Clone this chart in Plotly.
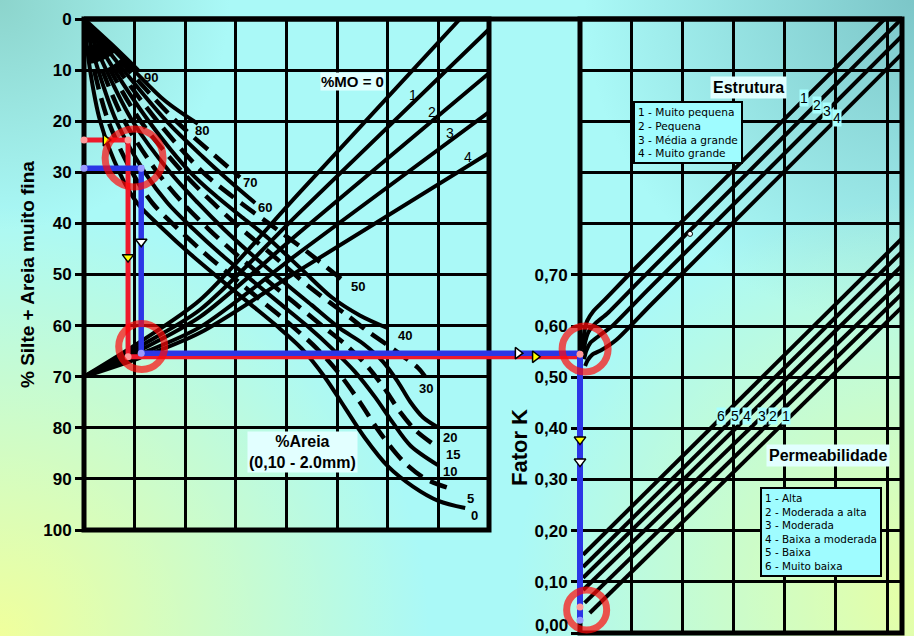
import base64
import plotly.graph_objects as go

W, H = 914, 636

# ---------------- values ----------------
silt_ticks = [0, 10, 20, 30, 40, 50, 60, 70, 80, 90, 100]
k_ticks = [0.0, 0.1, 0.2, 0.3, 0.4, 0.5, 0.6, 0.7]
k_tick_labels = ["0,00", "0,10", "0,20", "0,30", "0,40", "0,50", "0,60", "0,70"]
left_grid_x = [10, 20, 30, 40, 50, 60, 70]
right_grid_x = [0.1, 0.2, 0.3, 0.4, 0.5, 0.6]
right_grid_k_upper = [0.8, 0.9, 1.0, 1.1]

# % areia (0,10-2,0 mm) curves: x = panel units, y = % silte + areia muito fina
sand_levels = ["0", "5", "10", "15", "20", "30", "40", "50", "60", "70", "80", "90"]
sand_dashed = [False, True, False, True, False, True, False, True, False, True, False, False]
sand00_x = [0, 1.2, 3.2, 7.0, 10.5, 15.5, 21.0, 27.0, 32.5, 38.0, 43.0, 47.5, 51.5, 55.5, 60.0, 65.0, 70.0, 75.3]
sand00_y = [0, 10, 20, 30, 36, 41, 46, 51, 55.5, 60, 64.5, 70, 76, 82, 87.5, 91.5, 94.3, 95.7]
sand05_x = [0, 2.0, 4.8, 9.5, 13.5, 18.5, 24.0, 30.0, 35.5, 41.0, 46.0, 50.5, 54.5, 58.5, 63.0, 67.5, 72.7]
sand05_y = [0, 10, 20, 30, 36, 41, 46, 51, 55.5, 60, 64.5, 69.5, 75, 81, 86.5, 90, 92]
sand10_x = [0, 2.8, 6.4, 12.0, 16.5, 21.5, 27.0, 33.0, 38.5, 44.0, 49.0, 53.5, 57.5, 61.0, 64.5, 69.9]
sand10_y = [0, 10, 20, 30, 36, 41, 46, 51, 55.5, 60, 64.5, 69, 74, 79, 83.5, 87.3]
sand15_x = [0, 3.6, 8.0, 14.5, 19.5, 24.5, 30.0, 36.0, 41.5, 47.0, 52.0, 56.0, 59.5, 62.5, 65.5, 68.7]
sand15_y = [0, 10, 20, 30, 36, 41, 46, 51, 55.5, 60, 64, 68, 72.5, 77, 80.5, 83]
sand20_x = [0, 4.4, 9.6, 17.0, 22.5, 27.5, 33.0, 39.5, 45.0, 50.5, 55.1, 59.0, 62.0, 64.5, 67.0, 69.7]
sand20_y = [0, 10, 20, 30, 36, 41, 46, 51.5, 56, 60.5, 63.5, 67, 71, 75, 78, 79.8]
sand30_x = [0, 5.2, 11.2, 19.5, 25.5, 31.0, 37.0, 44.6, 48.6, 52.0, 55.9, 59.5, 63.0, 66.0, 67.4]
sand30_y = [0, 10, 20, 30, 36, 41, 46, 52.5, 55.5, 58, 61, 63.5, 66, 68.3, 70]
sand40_x = [0, 6.0, 12.8, 21.0, 26.5, 31.5, 36.5, 43.0, 49.0, 54.5, 60.0]
sand40_y = [0, 10, 20, 30, 35, 39, 43, 49, 54.5, 58, 60.5]
sand50_x = [0, 6.9, 14.5, 23.5, 31.0, 36.5, 44.0, 51.6]
sand50_y = [0, 10, 20, 30, 36, 40, 45.5, 51.5]
sand60_x = [0, 7.8, 16.3, 23.5, 28.5, 33.8]
sand60_y = [0, 10, 20, 27, 31.5, 36]
sand70_x = [0, 8.8, 18.2, 25.0, 30.8]
sand70_y = [0, 10, 20, 26, 31]
sand80_x = [0, 9.8, 16.0, 22.5]
sand80_y = [0, 10, 16, 20.5]
sand90_x = [0, 5.5, 10.7]
sand90_y = [0, 5, 10]
sand_label_x = [77.2, 76.4, 72.3, 72.9, 72.3, 67.6, 63.4, 54.1, 35.8, 32.8, 23.3, 13.2]
sand_label_y = [97.2, 93.9, 88.5, 85.3, 81.8, 72.4, 62.0, 52.4, 36.8, 31.9, 21.9, 11.4]

# % MO lines
mo_levels = ["0", "1", "2", "3", "4"]
mo0_x = [0, 11.06, 22.91, 42.67, 74.27]
mo0_y = [70, 63.2, 55.0, 33.9, 0.0]
mo1_x = [0, 11.06, 22.91, 42.67, 80.0]
mo1_y = [70, 64.0, 56.9, 37.8, 2.0]
mo2_x = [0, 11.06, 22.91, 42.67, 80.0]
mo2_y = [70, 64.8, 58.3, 41.7, 10.6]
mo3_x = [0, 11.06, 22.91, 42.67, 80.0]
mo3_y = [70, 65.6, 60.3, 45.6, 18.2]
mo4_x = [0, 11.06, 22.91, 42.67, 80.0]
mo4_y = [70, 66.3, 61.4, 49.1, 26.2]
mo_label_x = [65.0, 68.7, 72.3, 75.9]
mo_label_y = [14.9, 18.2, 22.3, 27.0]

# Estrutura lines (right panel: x, K)
struct_levels = ["1", "2", "3", "4"]
struct1_x = [0.006, 0.008, 0.014, 0.026, 0.046, 0.104, 0.595]
struct1_k = [0.555, 0.585, 0.610, 0.629, 0.649, 0.709, 1.200]
struct2_x = [0.007, 0.010, 0.017, 0.031, 0.054, 0.120, 0.628]
struct2_k = [0.545, 0.568, 0.589, 0.606, 0.625, 0.692, 1.200]
struct3_x = [0.008, 0.012, 0.020, 0.036, 0.062, 0.130, 0.629]
struct3_k = [0.535, 0.551, 0.567, 0.580, 0.599, 0.668, 1.167]
struct4_x = [0.010, 0.015, 0.024, 0.042, 0.070, 0.140, 0.629]
struct4_k = [0.522, 0.533, 0.544, 0.553, 0.572, 0.643, 1.132]
struct_label_x = [0.4375, 0.4629, 0.4824, 0.5020]
struct_label_k = [1.045, 1.032, 1.020, 1.006]
struct_legend = ["1 - Muito pequena", "2 - Pequena", "3 - Média a grande", "4 - Muito grande"]

# Permeabilidade lines 1..6
perm_levels = ["1", "2", "3", "4", "5", "6"]
perm_start_x = [0.019, 0.009, 0.006, 0.006, 0.006, 0.006]
perm_start_k = [0.039, 0.059, 0.084, 0.108, 0.129, 0.153]
perm_end_x = [0.629, 0.629, 0.629, 0.629, 0.629, 0.629]
perm_end_k = [0.637, 0.663, 0.688, 0.718, 0.745, 0.771]
perm_label_x = [0.4023, 0.3770, 0.3555, 0.3262, 0.3027, 0.2754]
perm_label_k = [0.4235, 0.4235, 0.4235, 0.4235, 0.4235, 0.4235]
perm_legend = ["1 - Alta", "2 - Moderada a alta", "3 - Moderada", "4 - Baixa a moderada",
               "5 - Baixa", "6 - Muito baixa"]

# worked examples (red and blue paths)
red_silt, red_sand_x, red_mo_y, red_k_end, red_k_start = 23.7, 8.7, 66.1, 0.051, 0.545
blue_silt, blue_sand_x, blue_mo_y, blue_k_end, blue_k_start = 29.2, 11.3, 65.4, 0.025, 0.549
ring_left_x = [9.9, 11.4]
ring_left_y = [27.2, 64.1]
ring_left_size = [58, 46]
ring_right_x = [0.010, 0.013]
ring_right_k = [0.555, 0.045]
ring_right_size = [46, 40]

# ---------------- layout geometry ----------------
xl0, xl1 = 84 / W, 489 / W
yl0, yl1 = 1 - 530 / H, 1 - 19 / H
xr0, xr1 = 580 / W, 902 / W
yr0, yr1 = 1 - 633 / H, 1 - 19 / H
LX, LY = [0, 80], [100, 0]
RX, RY = [0, 0.629], [0, 1.2]

ux = (LX[1] - LX[0]) / (xl1 - xl0)
x3_range = [LX[0] - xl0 * ux, LX[0] + (1 - xl0) * ux]
uy = (LY[0] - LY[1]) / (yl1 - yl0)
y3_range = [LY[0] + yl0 * uy, LY[1] - (1 - yl1) * uy]
rx = (RX[1] - RX[0]) / (xr1 - xr0)
x4_range = [RX[0] - xr0 * rx, RX[0] + (1 - xr0) * rx]
ry = (RY[1] - RY[0]) / (yr1 - yr0)
y4_range = [RY[0] - yr0 * ry, RY[1] + (1 - yr1) * ry]
gap_end_x = LX[0] + (xr0 - xl0) * ux

FONT = "Liberation Sans, Arial, sans-serif"
LEGFONT = "DejaVu Sans, Liberation Sans, sans-serif"
RED = "#ee1a2c"
BLUE = "#2c36e6"
RING = "#ff0a0a"

fig = go.Figure()

# MO lines
for xs, ys in [(mo0_x, mo0_y), (mo1_x, mo1_y), (mo2_x, mo2_y), (mo3_x, mo3_y), (mo4_x, mo4_y)]:
    fig.add_trace(go.Scatter(x=xs, y=ys, mode="lines", xaxis="x", yaxis="y",
                             line=dict(color="black", width=4, shape="spline", smoothing=0.8),
                             hoverinfo="skip", showlegend=False))

# sand curves
sand_xs = [sand00_x, sand05_x, sand10_x, sand15_x, sand20_x, sand30_x, sand40_x, sand50_x,
           sand60_x, sand70_x, sand80_x, sand90_x]
sand_ys = [sand00_y, sand05_y, sand10_y, sand15_y, sand20_y, sand30_y, sand40_y, sand50_y,
           sand60_y, sand70_y, sand80_y, sand90_y]
for xs, ys, dashed in zip(sand_xs, sand_ys, sand_dashed):
    fig.add_trace(go.Scatter(x=xs, y=ys, mode="lines", xaxis="x", yaxis="y",
                             line=dict(color="black", width=4.5 if dashed else 4, shape="spline",
                                       smoothing=0.9, dash="18px,9px" if dashed else "solid"),
                             hoverinfo="skip", showlegend=False))

# structure lines
for xs, ks in [(struct1_x, struct1_k), (struct2_x, struct2_k), (struct3_x, struct3_k), (struct4_x, struct4_k)]:
    fig.add_trace(go.Scatter(x=xs, y=ks, mode="lines", xaxis="x2", yaxis="y2",
                             line=dict(color="black", width=4, shape="spline", smoothing=0.6),
                             hoverinfo="skip", showlegend=False))
# permeability lines
for i in range(len(perm_levels)):
    fig.add_trace(go.Scatter(x=[perm_start_x[i], perm_end_x[i]], y=[perm_start_k[i], perm_end_k[i]],
                             mode="lines", xaxis="x2", yaxis="y2",
                             line=dict(color="black", width=4), hoverinfo="skip", showlegend=False))
fig.add_trace(go.Scatter(x=[0.215], y=[0.780], mode="markers", xaxis="x2", yaxis="y2",
                         marker=dict(size=5, color="white", line=dict(color="black", width=1)),
                         hoverinfo="skip", showlegend=False))

# ----- worked paths (left + gap), overlay axes x3/y3 -----
fig.add_trace(go.Scatter(x=[0, red_sand_x, red_sand_x, gap_end_x],
                         y=[red_silt, red_silt, red_mo_y, red_mo_y],
                         mode="lines", xaxis="x3", yaxis="y3",
                         line=dict(color=RED, width=5), hoverinfo="skip", showlegend=False))
fig.add_trace(go.Scatter(x=[0, blue_sand_x, blue_sand_x, gap_end_x],
                         y=[blue_silt, blue_silt, blue_mo_y, blue_mo_y],
                         mode="lines", xaxis="x3", yaxis="y3",
                         line=dict(color=BLUE, width=5.5), hoverinfo="skip", showlegend=False))
fig.add_trace(go.Scatter(x=[0, red_sand_x, red_sand_x], y=[red_silt, red_silt, red_mo_y],
                         mode="markers", xaxis="x3", yaxis="y3",
                         marker=dict(size=7, color="#ff9a9a"), hoverinfo="skip", showlegend=False))
fig.add_trace(go.Scatter(x=[0, blue_sand_x, blue_sand_x], y=[blue_silt, blue_silt, blue_mo_y],
                         mode="markers", xaxis="x3", yaxis="y3",
                         marker=dict(size=7, color="#9a9aff"), hoverinfo="skip", showlegend=False))
# direction arrows
fig.add_trace(go.Scatter(x=[4.3, 89.1], y=[red_silt, red_mo_y], mode="markers", xaxis="x3", yaxis="y3",
                         marker=dict(symbol="triangle-right", size=10, color="#ffff00",
                                     line=dict(color="black", width=1.5)),
                         hoverinfo="skip", showlegend=False))
fig.add_trace(go.Scatter(x=[85.7], y=[blue_mo_y], mode="markers", xaxis="x3", yaxis="y3",
                         marker=dict(symbol="triangle-right", size=10, color="white",
                                     line=dict(color="black", width=1.5)),
                         hoverinfo="skip", showlegend=False))
fig.add_trace(go.Scatter(x=[red_sand_x], y=[46.6], mode="markers", xaxis="x3", yaxis="y3",
                         marker=dict(symbol="triangle-down", size=10, color="#ffff00",
                                     line=dict(color="black", width=1.5)),
                         hoverinfo="skip", showlegend=False))
fig.add_trace(go.Scatter(x=[blue_sand_x], y=[43.6], mode="markers", xaxis="x3", yaxis="y3",
                         marker=dict(symbol="triangle-down", size=10, color="white",
                                     line=dict(color="black", width=1.5)),
                         hoverinfo="skip", showlegend=False))
fig.add_trace(go.Scatter(x=ring_left_x, y=ring_left_y, mode="markers", xaxis="x3", yaxis="y3",
                         marker=dict(symbol="circle-open", size=ring_left_size, color=RING,
                                     line=dict(color=RING, width=7)),
                         hoverinfo="skip", showlegend=False))

# ----- worked paths (right panel), overlay axes x4/y4 -----
fig.add_trace(go.Scatter(x=[0, 0], y=[red_k_start, red_k_end], mode="lines", xaxis="x4", yaxis="y4",
                         line=dict(color=RED, width=5), hoverinfo="skip", showlegend=False))
fig.add_trace(go.Scatter(x=[0, 0], y=[blue_k_start, blue_k_end], mode="lines", xaxis="x4", yaxis="y4",
                         line=dict(color=BLUE, width=6), hoverinfo="skip", showlegend=False))
fig.add_trace(go.Scatter(x=[0, 0], y=[red_k_start, red_k_end], mode="markers", xaxis="x4", yaxis="y4",
                         marker=dict(size=7, color="#ff9a9a"), hoverinfo="skip", showlegend=False))
fig.add_trace(go.Scatter(x=[0], y=[blue_k_end], mode="markers", xaxis="x4", yaxis="y4",
                         marker=dict(size=7, color="#9a9aff"), hoverinfo="skip", showlegend=False))
fig.add_trace(go.Scatter(x=[0], y=[0.378], mode="markers", xaxis="x4", yaxis="y4",
                         marker=dict(symbol="triangle-down", size=10, color="#ffff00",
                                     line=dict(color="black", width=1.5)),
                         hoverinfo="skip", showlegend=False))
fig.add_trace(go.Scatter(x=[0], y=[0.335], mode="markers", xaxis="x4", yaxis="y4",
                         marker=dict(symbol="triangle-down", size=10, color="white",
                                     line=dict(color="black", width=1.5)),
                         hoverinfo="skip", showlegend=False))
fig.add_trace(go.Scatter(x=ring_right_x, y=ring_right_k, mode="markers", xaxis="x4", yaxis="y4",
                         marker=dict(symbol="circle-open", size=ring_right_size, color=RING,
                                     line=dict(color=RING, width=7)),
                         hoverinfo="skip", showlegend=False))

# ---------------- annotations ----------------
ann = []
for lab, x, y in zip(sand_levels, sand_label_x, sand_label_y):
    ann.append(dict(x=x, y=y, xref="x", yref="y", text=f"<b>{lab}</b>", showarrow=False,
                    font=dict(size=13, family=FONT, color="black")))
for lab, x, y in zip(mo_levels[1:], mo_label_x, mo_label_y):
    ann.append(dict(x=x, y=y, xref="x", yref="y", text=lab, showarrow=False,
                    font=dict(size=14, family=FONT, color="black")))
ann.append(dict(x=53.1, y=12.3, xref="x", yref="y", text="<b>%MO = 0</b>", showarrow=False,
                bgcolor="#e2ffff", borderpad=0, font=dict(size=15, family=FONT, color="black")))
ann.append(dict(x=43.1, y=84.7, xref="x", yref="y", text="<b>%Areia</b><br><b>(0,10 - 2.0mm)</b>",
                showarrow=False, bgcolor="#e2ffff", borderpad=1, align="center",
                font=dict(size=16, family=FONT, color="black")))
for lab, x, k in zip(struct_levels, struct_label_x, struct_label_k):
    ann.append(dict(x=x, y=k, xref="x2", yref="y2", text=lab, showarrow=False, bgcolor="#a8ffff",
                    borderpad=0, font=dict(size=14, family=FONT, color="black")))
for lab, x, k in zip(perm_levels, perm_label_x, perm_label_k):
    ann.append(dict(x=x, y=k, xref="x2", yref="y2", text=lab, showarrow=False, bgcolor="#a8ffff",
                    borderpad=0, font=dict(size=14, family=FONT, color="black")))
ann.append(dict(x=0.330, y=1.0667, xref="x2", yref="y2", text="<b>Estrutura</b>", showarrow=False,
                bgcolor="#e2ffff", borderpad=2, font=dict(size=16, family=FONT, color="black")))
ann.append(dict(x=0.4844, y=0.3471, xref="x2", yref="y2", text="<b>Permeabilidade</b>", showarrow=False,
                bgcolor="#e2ffff", borderpad=2, font=dict(size=16, family=FONT, color="black")))
# legend boxes (one multi-line text each)
ann.append(dict(x=0.1035, y=1.0392, xref="x2", yref="y2", text="<br>".join(struct_legend),
                showarrow=False, xanchor="left", yanchor="top", align="left",
                bgcolor="#9ffcff", bordercolor="black", borderwidth=2, borderpad=3,
                font=dict(size=10.6, family=LEGFONT, color="black")))
ann.append(dict(x=0.3516, y=0.2863, xref="x2", yref="y2", text="<br>".join(perm_legend),
                showarrow=False, xanchor="left", yanchor="top", align="left",
                bgcolor="#9ffcff", bordercolor="black", borderwidth=2, borderpad=3,
                font=dict(size=10.4, family=LEGFONT, color="black")))
# lowest K tick label, lifted slightly so it stays inside the picture
ann.append(dict(x=0, y=k_ticks[0], xref="x2", yref="y2", text=f"<b>{k_tick_labels[0]}</b>",
                showarrow=False, xanchor="right", yanchor="middle", xshift=-10, yshift=8,
                font=tickfont if False else dict(size=17, family=FONT, color="black")))
ann.append(dict(x=27 / W, y=1 - 275 / H, xref="paper", yref="paper", text="<b>% Silte + Areia muito fina</b>",
                textangle=-90, showarrow=False, xanchor="center", yanchor="middle",
                font=dict(size=19, family=FONT, color="black")))
ann.append(dict(x=520 / W, y=1 - 448 / H, xref="paper", yref="paper", text="<b>Fator K</b>",
                textangle=-90, showarrow=False, xanchor="center", yanchor="middle",
                font=dict(size=22, family=FONT, color="black")))

# ---------------- frames ----------------
shapes = [
    dict(type="rect", xref="x domain", yref="y domain", x0=0, x1=1, y0=0, y1=1,
         line=dict(color="black", width=5), layer="below"),
    dict(type="rect", xref="x2 domain", yref="y2 domain", x0=0, x1=1, y0=0, y1=1,
         line=dict(color="black", width=5), layer="below"),
    dict(type="line", xref="paper", yref="y domain", x0=xl0, x1=xr1, y0=1, y1=1,
         line=dict(color="black", width=5), layer="below"),
]

# ---------------- background gradient ----------------
svg = f"""<svg xmlns="http://www.w3.org/2000/svg" width="{W}" height="{H}" viewBox="0 0 {W} {H}" preserveAspectRatio="none">
<defs>
<radialGradient id="bl" cx="0" cy="{H}" r="430" gradientUnits="userSpaceOnUse"><stop offset="0" stop-color="#f0ff9c"/><stop offset="1" stop-color="#f0ff9c" stop-opacity="0"/></radialGradient>
<radialGradient id="br" cx="{W}" cy="600" r="400" gradientUnits="userSpaceOnUse"><stop offset="0" stop-color="#e6ffa6"/><stop offset="1" stop-color="#e6ffa6" stop-opacity="0"/></radialGradient>
<radialGradient id="tr" cx="{W}" cy="0" r="330" gradientUnits="userSpaceOnUse"><stop offset="0" stop-color="#7cc6c8"/><stop offset="1" stop-color="#7cc6c8" stop-opacity="0"/></radialGradient>
<radialGradient id="tl" cx="0" cy="0" r="230" gradientUnits="userSpaceOnUse"><stop offset="0" stop-color="#8cd4cc"/><stop offset="1" stop-color="#8cd4cc" stop-opacity="0"/></radialGradient>
</defs>
<rect width="{W}" height="{H}" fill="#aaf9f7"/>
<rect width="{W}" height="{H}" fill="url(#tl)"/>
<rect width="{W}" height="{H}" fill="url(#tr)"/>
<rect width="{W}" height="{H}" fill="url(#bl)"/>
<rect width="{W}" height="{H}" fill="url(#br)"/>
</svg>"""
bg_uri = "data:image/svg+xml;base64," + base64.b64encode(svg.encode("utf-8")).decode("ascii")

grid = dict(showgrid=True, gridcolor="black", gridwidth=2.5, zeroline=False, fixedrange=True,
            automargin=False)
hidden = dict(visible=False, fixedrange=True, automargin=False, domain=[0, 1])
tickfont = dict(size=17, family=FONT, color="black")

fig.update_layout(
    width=W, height=H, autosize=False,
    margin=dict(l=0, r=0, t=0, b=0, pad=0, autoexpand=False),
    paper_bgcolor="#aaf9f7", plot_bgcolor="rgba(0,0,0,0)",
    font=dict(family=FONT, color="black"),
    showlegend=False,
    xaxis=dict(domain=[xl0, xl1], range=LX, tickvals=left_grid_x, showticklabels=False, ticks="",
               anchor="y", **grid),
    yaxis=dict(domain=[yl0, yl1], range=LY, tickvals=silt_ticks,
               ticktext=[f"<b>{v}</b>" for v in silt_ticks], ticks="outside", ticklen=8, tickwidth=3,
               tickcolor="black", tickfont=tickfont, anchor="x", ticklabeloverflow="allow", **grid),
    xaxis2=dict(domain=[xr0, xr1], range=RX, tickvals=right_grid_x, showticklabels=False, ticks="",
                anchor="y2", **grid),
    yaxis2=dict(domain=[yr0, yr1], range=RY, tickvals=k_ticks,
                ticktext=[""] + [f"<b>{t}</b>" for t in k_tick_labels[1:]], ticks="outside", ticklen=8,
                tickwidth=3, tickcolor="black", tickfont=tickfont, anchor="x2", ticklabeloverflow="allow",
                minor=dict(tickvals=right_grid_k_upper, showgrid=True, gridcolor="black", gridwidth=2.5,
                           ticks=""),
                **grid),
    xaxis3=dict(range=x3_range, anchor="y3", **hidden),
    yaxis3=dict(range=y3_range, anchor="x3", **hidden),
    xaxis4=dict(range=x4_range, anchor="y4", **hidden),
    yaxis4=dict(range=y4_range, anchor="x4", **hidden),
    annotations=ann,
    shapes=shapes,
    images=[dict(source=bg_uri, xref="paper", yref="paper", x=0, y=1, sizex=1, sizey=1,
                 sizing="stretch", layer="below", xanchor="left", yanchor="top")],
)

fig.write_html("out.html", config={"displayModeBar": False})
